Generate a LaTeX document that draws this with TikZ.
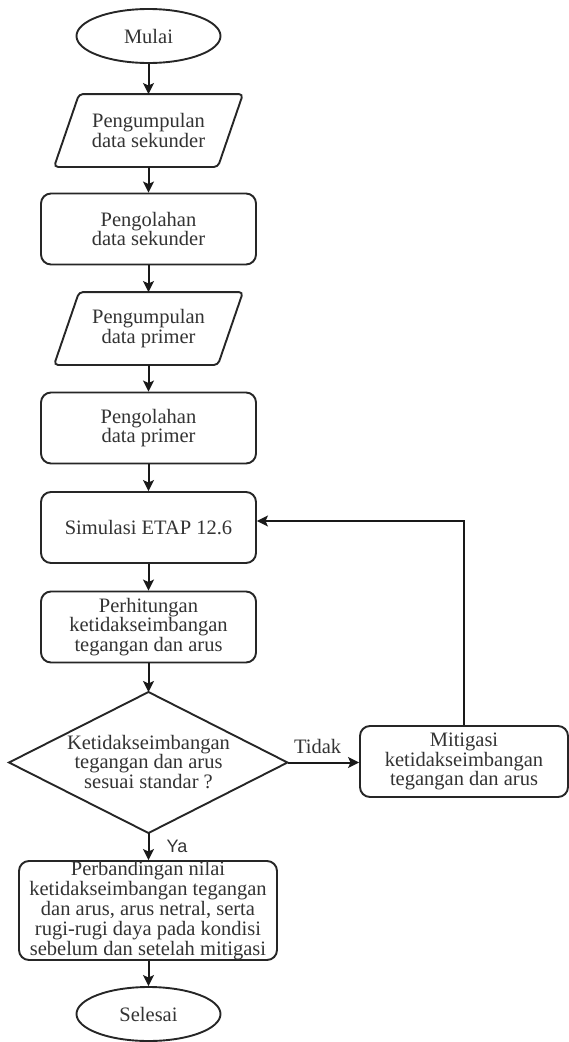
\documentclass[tikz,border=0pt]{standalone}
\usepackage{fontspec}
\setmainfont{Liberation Serif}
\newfontfamily\sansf{Liberation Sans}
\usetikzlibrary{arrows.meta,shapes.geometric,calc}
\begin{document}
\begin{tikzpicture}[x=1pt,y=-1pt,
  base/.style={font=\fontsize{20.5}{19.8}\selectfont, text=black!80, align=center, line width=1.9pt, draw=black!85, inner sep=0pt},
  term/.style={base, draw, ellipse, minimum width=144pt, minimum height=54pt},
  proc/.style={base, draw, rectangle, rounded corners=10pt, minimum width=215pt, minimum height=71pt},
  iobox/.style={base, draw=none, rectangle, minimum width=162pt, minimum height=71pt},
  iodraw/.style={line width=1.9pt, draw=black!85, rounded corners=4pt},
  arr/.style={line width=2pt, draw=black!90, -{Stealth[length=11pt,width=11pt,inset=2.5pt]}},
  lbl/.style={font=\fontsize{20.5}{20}\selectfont, text=black!80, inner sep=0pt},
  ylbl/.style={font=\sansf\fontsize{18}{18}\selectfont, text=black!80, inner sep=0pt}
]
\useasboundingbox (0,0) rectangle (569,1042);

\node[term] (start) at (148.5,36) {Mulai};

\node[iobox] (p1) at (148.5,130.5) {Pengumpulan\\data sekunder};
\draw[iodraw] ($(p1.north west)+(12.5,0)$) -- ($(p1.north east)+(12.5,0)$) -- ($(p1.south east)+(-12.5,0)$) -- ($(p1.south west)+(-12.5,0)$) -- cycle;

\node[proc] (r2) at (148.5,229) {Pengolahan\\data sekunder};

\node[iobox] (p3) at (148.5,328.5) {Pengumpulan\\data primer};
\draw[iodraw] ($(p3.north west)+(12.5,0)$) -- ($(p3.north east)+(12.5,0)$) -- ($(p3.south east)+(-12.5,0)$) -- ($(p3.south west)+(-12.5,0)$) -- cycle;

\node[proc] (r4) at (148.5,428) {Pengolahan\\data primer};
\node[proc] (sim) at (148.5,527.5) {Simulasi ETAP 12.6};
\node[proc] (r5) at (148.5,627) {Perhitungan\\ketidakseimbangan\\tegangan dan arus};

\node[base, draw=none] (d) at (148.5,762) {Ketidakseimbangan\\tegangan dan arus\\sesuai standar ?};
\coordinate (dN) at (148.5,692);
\coordinate (dS) at (148.5,833);
\coordinate (dW) at (9,762.5);
\coordinate (dE) at (287.5,762.5);
\draw[line width=1.9pt, draw=black!85] (dN) -- (dE) -- (dS) -- (dW) -- cycle;

\node[proc, minimum width=208pt] (mit) at (464,761.5) {Mitigasi\\ketidakseimbangan\\tegangan dan arus};

\node[proc, minimum width=258pt, minimum height=99pt] (r7) at (148,910.5) {Perbandingan nilai\\ketidakseimbangan tegangan\\dan arus, arus netral, serta\\rugi-rugi daya pada kondisi\\sebelum dan setelah mitigasi};

\node[term] (stop) at (148.5,1014) {Selesai};

\coordinate (fb) at (464,521);

\draw[arr] (start.south) -- (p1.north);
\draw[arr] (p1.south) -- (r2.north);
\draw[arr] (r2.south) -- (p3.north);
\draw[arr] (p3.south) -- (r4.north);
\draw[arr] (r4.south) -- (sim.north);
\draw[arr] (sim.south) -- (r5.north);
\draw[arr] (r5.south) -- (dN);
\draw[arr] (dE) -- node[lbl, above=8pt, pos=0.42] (tidak) {Tidak} (mit.west |- dE);
\draw[arr] (mit.north) -- (fb) -- (sim.east |- fb);
\draw[arr] (dS) -- (r7.north -| dS);
\node[ylbl] (ya) at (177,846) {Ya};
\draw[arr] (r7.south -| stop) -- (stop.north);
\end{tikzpicture}
\end{document}
